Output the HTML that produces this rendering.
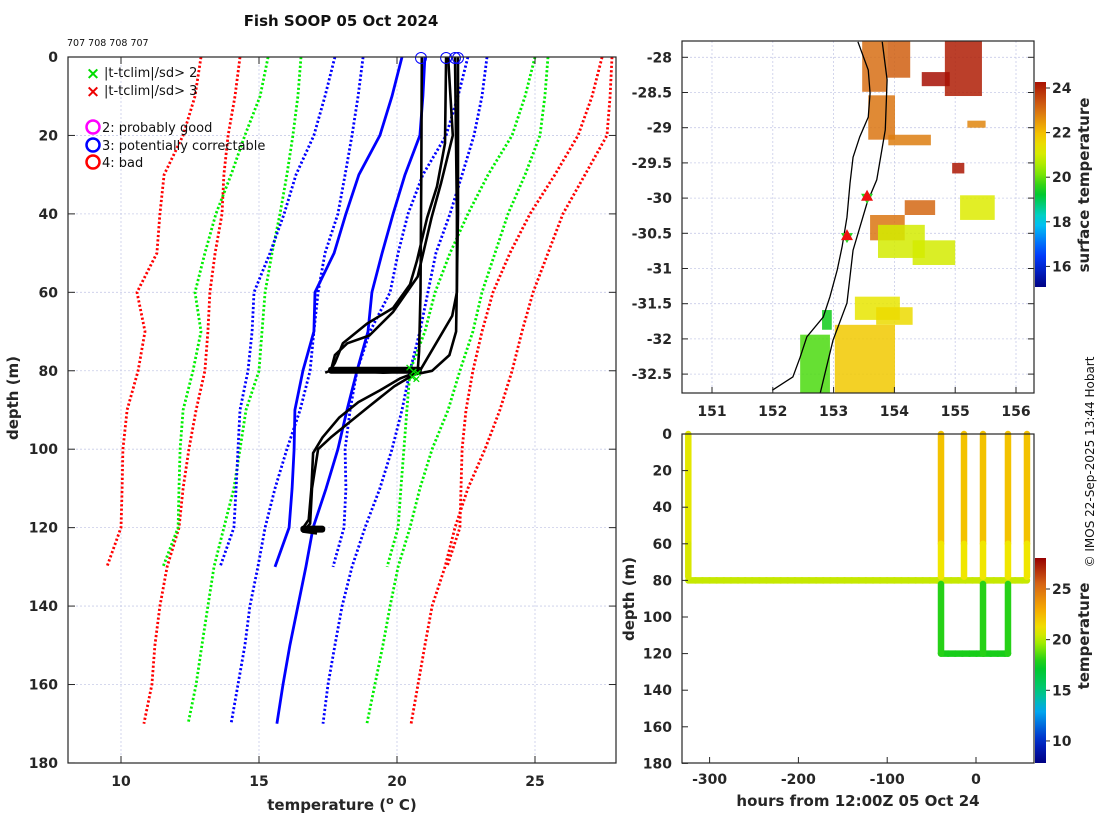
<!DOCTYPE html>
<html><head><meta charset="utf-8">
<style>
html,body{margin:0;padding:0;background:#fff;}
svg{display:block;font-family:"DejaVu Sans","Liberation Sans",sans-serif;}
.tk{font-size:14px;font-weight:bold;fill:#262626;}
.lb{font-size:15px;font-weight:bold;fill:#262626;}
.lg{font-size:13px;fill:#111;font-family:"DejaVu Sans","Liberation Sans",sans-serif;}
</style></head>
<body>
<svg id="chart" width="1100" height="820" viewBox="0 0 1100 820" xmlns="http://www.w3.org/2000/svg">
  <text x="341" y="26" text-anchor="middle" style="font-size:15px;font-weight:bold;fill:#111">Fish SOOP 05 Oct 2024</text>
  <text x="67" y="46" style="font-size:9.5px;fill:#111">707 708 708 707</text>
  <g id="main"></g>
  <g id="map"></g>
  <g id="ts"></g>
  <text transform="translate(1094,462) rotate(-90)" text-anchor="middle" style="font-size:12px;fill:#111;font-family:'DejaVu Sans','Liberation Sans',sans-serif">© IMOS 22-Sep-2025 13:44 Hobart</text>
</svg>
<script>
// ---------- main profile plot data ----------
const shallowDepths=[0,10,20,30,40,50,60,70,80,90,100,110,120,130];
const shallowMean=[20.18,19.82,19.38,18.62,18.15,17.72,17.03,16.99,16.59,16.30,16.27,16.20,16.09,15.58];
const shallowMinus1=[17.75,17.39,16.99,16.34,15.91,15.40,14.82,14.75,14.60,14.31,14.24,14.17,14.09,13.59];
const shallowPlus1=[22.57,22.21,21.78,20.94,20.40,20.04,19.75,19.02,18.55,18.30,18.12,18.15,18.08,17.68];
const shallowMinus2=[15.33,15.04,14.49,13.99,13.44,13.04,12.68,12.90,12.61,12.25,12.14,12.10,12.07,11.52];
const shallowPlus2=[25.0,24.64,24.17,23.30,22.57,21.92,21.38,21.01,20.47,20.36,20.25,20.14,20.04,19.64];
const shallowMinus3=[12.90,12.68,12.25,11.56,11.41,11.30,10.58,10.87,10.62,10.22,10.07,10.04,10.0,9.49];
const shallowPlus3=[27.43,27.07,26.56,25.72,24.82,24.09,23.48,23.08,22.75,22.50,22.36,22.32,22.28,21.81];
const deepDepths=[0,10,20,30,40,50,60,70,80,90,100,110,120,130,140,150,160,170];
const deepMean=[21.01,20.94,20.83,20.29,19.86,19.46,19.09,18.95,18.55,18.19,17.86,17.43,16.96,16.70,16.41,16.12,15.87,15.65];
const deepMinus1=[18.77,18.59,18.37,18.12,17.86,17.39,17.14,16.99,16.85,16.49,16.01,15.58,15.22,14.96,14.67,14.49,14.24,13.99];
const deepPlus1=[23.26,23.08,22.79,22.36,21.92,21.41,21.12,20.83,20.47,20.18,19.82,19.38,18.84,18.37,18.01,17.75,17.50,17.32];
const deepMinus2=[16.52,16.41,16.23,16.01,15.76,15.47,15.22,15.11,15.0,14.53,14.31,14.09,13.73,13.37,13.15,12.93,12.72,12.43];
const deepPlus2=[25.47,25.36,25.18,24.64,24.02,23.55,23.08,22.75,22.28,21.85,21.27,20.83,20.47,20.04,19.75,19.49,19.20,18.91];
const deepMinus3=[14.31,14.13,13.88,13.73,13.66,13.41,13.22,13.15,13.04,12.72,12.46,12.25,12.10,11.67,11.41,11.23,11.12,10.83];
const deepPlus3=[27.79,27.72,27.61,26.81,26.01,25.47,24.93,24.53,24.17,23.73,23.19,22.57,22.10,21.74,21.27,21.01,20.76,20.51];
// observed profiles (temperature, depth)
const prof1T=[20.90,20.88,20.85,20.80,20.76,20.70,19.5,18.3,17.57];
const prof1D=[0,30,60,75,79,80,80.5,80,80];
const prof2T=[21.78,21.74,21.45,21.09,20.72,20.47,19.86,18.91,18.04,17.75,17.57,17.4];
const prof2D=[0,22,33,41,52,58,64,68,73,78,80,80.5];
const prof3T=[21.85,22.02,21.60,21.25,20.75,19.86,19.0,18.2,17.75,17.60];
const prof3D=[0,20,32,41,56,65,71,73,76,80];
const prof4T=[22.10,22.17,22.17,22.0,20.83,20.1,19.38,18.6,17.9,17.3,16.96,16.90,16.80,16.6,17.2];
const prof4D=[0,40,60,66,80,82,85,88,92,97,101,110,118,120,120.5];
const prof5T=[22.21,22.21,22.14,21.9,21.27,20.6,19.9,19.0,18.3,17.6,17.14,16.92,16.85,16.6,17.1];
const prof5D=[0,40,70,76,80,81,84,89,93,97,100,110,119,121,121.5];
const topCircleT=[20.87,21.78,22.10,22.21];
const flagT=[20.45,20.6,20.75,20.55,20.7];
const flagD=[79,80,80.5,81.5,82];
const xTicks=[10,15,20,25];
const yTicks=[0,20,40,60,80,100,120,140,160,180];

// ---------- map data ----------
const sstLon1=[153.47,153.88,154.83,154.45,153.57,153.60,154.17,153.73,154.3,155.08,153.02,152.45,152.81,153.35,154.95,155.2,153.9,153.7];
const sstLon2=[153.88,154.26,155.44,154.91,154.01,154.17,154.67,154.5,155.0,155.65,154.01,152.94,152.97,154.09,155.15,155.5,154.6,154.3];
const sstLat1=[-27.77,-27.77,-27.77,-28.21,-28.54,-30.24,-30.03,-30.38,-30.6,-29.96,-31.80,-31.94,-31.59,-31.40,-29.5,-28.9,-29.1,-31.55];
const sstLat2=[-28.49,-28.29,-28.55,-28.41,-29.17,-30.60,-30.24,-30.85,-30.95,-30.31,-32.77,-32.77,-31.87,-31.73,-29.65,-29.0,-29.25,-31.80];
const sstVal=[23.0,23.2,24.1,24.3,22.9,22.9,23.1,21.0,21.0,21.1,21.8,19.8,19.4,21.3,24.2,22.7,22.8,21.5];
const coastLon=[153.40,153.57,153.60,153.57,153.43,153.32,153.27,153.22,153.14,153.06,152.94,152.83,152.56,152.45,152.33,151.99];
const coastLat=[-27.78,-28.18,-28.51,-28.85,-29.13,-29.42,-29.79,-30.27,-30.69,-31.02,-31.40,-31.69,-31.97,-32.26,-32.54,-32.73];
const trackLon=[153.80,153.88,153.85,153.71,153.55,153.32,153.22,152.99,152.78];
const trackLat=[-27.78,-28.32,-29.03,-29.74,-30.07,-30.74,-31.49,-32.02,-32.77];
const castLon=[153.55,153.22];
const castLat=[-29.98,-30.54];
const lonTicks=[151,152,153,154,155,156];
const latTicks=[-28,-28.5,-29,-29.5,-30,-30.5,-31,-31.5,-32,-32.5];
const sstCbTicks=[16,18,20,22,24];

// ---------- time-depth data ----------
const castHours=[-324,-39.4,-13.5,7.9,36,57.4];
const castBottom=[80,120,80,120,120,80];
const legHours=[[-324,57.4]];
const legDepth=[80];
const deepLegStart=-39.4, deepLegEnd=36, deepLegDepth=120;
const hourTicks=[-300,-200,-100,0];
const tsDepthTicks=[0,20,40,60,80,100,120,140,160,180];
const tsCbTicks=[10,15,20,25];

const NS='http://www.w3.org/2000/svg';
function mk(parent,tag,attrs){const e=document.createElementNS(NS,tag);for(const k in attrs)e.setAttribute(k,attrs[k]);parent.appendChild(e);return e;}

// ===== Main plot =====
const main=document.getElementById('main');
const X=t=>121+(t-10)*27.6, Y=d=>57+d*3.922;
const mL=68,mR=616,mT=57,mB=763;
xTicks.forEach(t=>{const g=mk(main,'line',{x1:X(t),x2:X(t),y1:mT,y2:mB,stroke:'#c8cce8','stroke-width':0.8,'stroke-dasharray':'2,2'});
});
yTicks.forEach(d=>{const g=mk(main,'line',{x1:mL,x2:mR,y1:Y(d),y2:Y(d),stroke:'#c8cce8','stroke-width':0.8,'stroke-dasharray':'2,2'});
});
function poly(parent,ts,ds,color,w,dash,name){
  const pts=ts.map((t,i)=>X(t).toFixed(1)+','+Y(ds[i]).toFixed(1)).join(' ');
  const a={points:pts,fill:'none',stroke:color,'stroke-width':w,'stroke-linejoin':'round'};
  if(dash)a['stroke-dasharray']=dash;
  const p=mk(parent,'polyline',a);
  
  
  return p;}
const dsh='2.2,2.2';
poly(main,shallowMinus3,shallowDepths,'#ff0000',2.8,dsh,'shallow-clim-minus3sd');
poly(main,shallowPlus3,shallowDepths,'#ff0000',2.8,dsh,'shallow-clim-plus3sd');
poly(main,deepMinus3,deepDepths,'#ff0000',2.8,dsh,'deep-clim-minus3sd');
poly(main,deepPlus3,deepDepths,'#ff0000',2.8,dsh,'deep-clim-plus3sd');
poly(main,shallowMinus2,shallowDepths,'#00ee00',2.8,dsh,'shallow-clim-minus2sd');
poly(main,shallowPlus2,shallowDepths,'#00ee00',2.8,dsh,'shallow-clim-plus2sd');
poly(main,deepMinus2,deepDepths,'#00ee00',2.8,dsh,'deep-clim-minus2sd');
poly(main,deepPlus2,deepDepths,'#00ee00',2.8,dsh,'deep-clim-plus2sd');
poly(main,shallowMinus1,shallowDepths,'#0000ff',2.8,dsh,'shallow-clim-minus1sd');
poly(main,shallowPlus1,shallowDepths,'#0000ff',2.8,dsh,'shallow-clim-plus1sd');
poly(main,deepMinus1,deepDepths,'#0000ff',2.8,dsh,'deep-clim-minus1sd');
poly(main,deepPlus1,deepDepths,'#0000ff',2.8,dsh,'deep-clim-plus1sd');
poly(main,shallowMean,shallowDepths,'#0000ff',2.8,null,'shallow-clim-mean');
poly(main,deepMean,deepDepths,'#0000ff',2.8,null,'deep-clim-mean');
[[prof1T,prof1D],[prof2T,prof2D],[prof3T,prof3D],[prof4T,prof4D],[prof5T,prof5D]].forEach((p,i)=>{
  poly(main,p[0],p[1],'#000',2.6,null,'observed-profile-'+(i+1));});
[[17.5,20.9,80],[16.5,17.4,120.5]].forEach(b=>{const r=mk(main,'rect',{x:X(b[0]),y:Y(b[2])-4,width:X(b[1])-X(b[0]),height:7,fill:'#000',rx:3});
});
flagT.forEach((t,i)=>{const tx=mk(main,'text',{x:X(t),y:Y(flagD[i])+4,'text-anchor':'middle',fill:'#00dd00','font-size':'11','font-weight':'bold'});tx.textContent='×';
});
topCircleT.forEach(t=>{const c=mk(main,'circle',{cx:X(t),cy:Y(0)+1,r:5.5,fill:'none',stroke:'#0000ff','stroke-width':1});
});
const fr=mk(main,'rect',{x:mL,y:mT,width:mR-mL,height:mB-mT,fill:'none',stroke:'#262626','stroke-width':1.2});

xTicks.forEach(t=>{mk(main,'line',{x1:X(t),x2:X(t),y1:mB,y2:mB-7,stroke:'#262626'});mk(main,'line',{x1:X(t),x2:X(t),y1:mT,y2:mT+7,stroke:'#262626'});
const tx=mk(main,'text',{x:X(t),y:mB+23,'text-anchor':'middle',class:'tk'});tx.textContent=t;
});
yTicks.forEach(d=>{mk(main,'line',{x1:mL,x2:mL+7,y1:Y(d),y2:Y(d),stroke:'#262626'});mk(main,'line',{x1:mR,x2:mR-7,y1:Y(d),y2:Y(d),stroke:'#262626'});
const tx=mk(main,'text',{x:mL-10,y:Y(d)+5,'text-anchor':'end',class:'tk'});tx.textContent=d;
});
let tl=mk(main,'text',{x:342,y:810,'text-anchor':'middle',class:'lb'});tl.innerHTML='temperature (<tspan dy="-6" font-size="11">o</tspan><tspan dy="6"> C)</tspan>';

tl=mk(main,'text',{transform:'translate(18,398) rotate(-90)','text-anchor':'middle',class:'lb'});tl.textContent='depth (m)';

const leg=mk(main,'g',{});
[['#00dd00','|t-tclim|/sd> 2',77],['#ee0000','|t-tclim|/sd> 3',95]].forEach(l=>{
 const m=mk(leg,'text',{x:93,y:l[2]+2,'text-anchor':'middle',fill:l[0],'font-size':'17','font-weight':'bold'});m.textContent='×';
 
 const t=mk(leg,'text',{x:104,y:l[2],class:'lg'});t.textContent=l[1];
 });
[['#ff00ff','2: probably good',127],['#0000ff','3: potentially correctable',145],['#ff0000','4: bad',162]].forEach(l=>{
 const c=mk(leg,'circle',{cx:93,cy:l[2],r:6.5,fill:'none',stroke:l[0],'stroke-width':2.5});
 
 const t=mk(leg,'text',{x:102,y:l[2]+5,class:'lg'});t.textContent=l[1];
 });

// ===== Map =====
const map=document.getElementById('map');
const MX=lon=>712+(lon-151)*60.8, MY=lat=>57.3+(-28-lat)*70.4;
const aL=682,aR=1034,aT=41,aB=393;
function sstColor(v){const st=[[15,[0,0,128]],[16.5,[0,60,255]],[18,[0,210,240]],[19.3,[0,200,30]],[20.3,[150,235,0]],[21.2,[230,235,0]],[22,[245,190,0]],[23,[215,110,20]],[24.5,[160,0,0]]];
 if(v<=st[0][0])return 'rgb('+st[0][1]+')';for(let i=1;i<st.length;i++){if(v<=st[i][0]){const f=(v-st[i-1][0])/(st[i][0]-st[i-1][0]);const c=st[i-1][1].map((a,j)=>Math.round(a+(st[i][1][j]-a)*f));return 'rgb('+c+')';}}return 'rgb('+st[st.length-1][1]+')';}
lonTicks.forEach(l=>{const g=mk(map,'line',{x1:MX(l),x2:MX(l),y1:aT,y2:aB,stroke:'#c8cce8','stroke-width':0.8,'stroke-dasharray':'2,2'});});
latTicks.forEach(l=>{const g=mk(map,'line',{x1:aL,x2:aR,y1:MY(l),y2:MY(l),stroke:'#c8cce8','stroke-width':0.8,'stroke-dasharray':'2,2'});});
sstVal.forEach((v,i)=>{const x1=Math.max(aL,MX(sstLon1[i])),x2=Math.min(aR,MX(sstLon2[i])),y1=Math.max(aT,MY(sstLat1[i])),y2=Math.min(aB,MY(sstLat2[i]));
 const r=mk(map,'rect',{x:x1,y:y1,width:x2-x1,height:y2-y1,fill:sstColor(v),opacity:0.85});
 });
let pl=mk(map,'polyline',{points:coastLon.map((l,i)=>MX(l)+','+MY(coastLat[i])).join(' '),fill:'none',stroke:'#000','stroke-width':1.3});

pl=mk(map,'polyline',{points:trackLon.map((l,i)=>MX(l)+','+MY(trackLat[i])).join(' '),fill:'none',stroke:'#000','stroke-width':1.3});

castLon.forEach((l,i)=>{const x=MX(l),y=MY(castLat[i]);
 const g=mk(map,'polygon',{points:(x-6)+','+(y-3)+' '+(x+6)+','+(y-3)+' '+x+','+(y+7),fill:'#22dd22'});
 const r=mk(map,'polygon',{points:(x-6)+','+(y+4)+' '+(x+6)+','+(y+4)+' '+x+','+(y-7),fill:'#ee1111'});});
const mf=mk(map,'rect',{x:aL,y:aT,width:aR-aL,height:aB-aT,fill:'none',stroke:'#262626','stroke-width':1.2});
lonTicks.forEach(l=>{mk(map,'line',{x1:MX(l),x2:MX(l),y1:aB,y2:aB-6,stroke:'#262626'});
 const t=mk(map,'text',{x:MX(l),y:aB+23,'text-anchor':'middle',class:'tk'});t.textContent=l;});
latTicks.forEach(l=>{mk(map,'line',{x1:aL,x2:aL+6,y1:MY(l),y2:MY(l),stroke:'#262626'});mk(map,'line',{x1:aR,x2:aR-6,y1:MY(l),y2:MY(l),stroke:'#262626'});
 const t=mk(map,'text',{x:aL-10,y:MY(l)+5,'text-anchor':'end',class:'tk'});t.textContent=l;});
const CB1=v=>88+(24-v)*22.3;
const defs=mk(document.getElementById('chart'),'defs',{});
const gr1=mk(defs,'linearGradient',{id:'g1',x1:0,y1:0,x2:0,y2:1});
for(let k=0;k<=20;k++){const v=24.25-(k/20)*(24.25-15.05);mk(gr1,'stop',{offset:k/20,'stop-color':sstColor(v)});}
let cb=mk(map,'rect',{x:1035,y:82,width:11,height:205,fill:'url(#g1)'});
sstCbTicks.forEach(v=>{mk(map,'line',{x1:1046,x2:1050,y1:CB1(v),y2:CB1(v),stroke:'#262626'});
 const t=mk(map,'text',{x:1052,y:CB1(v)+5,class:'tk'});t.textContent=v;});
tl=mk(map,'text',{transform:'translate(1089,185) rotate(-90)','text-anchor':'middle',class:'lb','font-size':'14'});tl.textContent='surface temperature';


// ===== Time-depth plot =====
const ts=document.getElementById('ts');
const TX=h=>976+h*0.888, TY=d=>434+d*1.83;
const bL=682,bR=1034,bT=434,bB=763;
function tsColor(v){const st=[[7.8,[0,0,130]],[10,[0,40,200]],[13,[0,170,240]],[15,[0,200,120]],[17.5,[0,200,30]],[19.5,[150,235,0]],[21,[240,230,0]],[23,[245,170,0]],[25.5,[215,100,20]],[28.1,[150,0,0]]];
 for(let i=1;i<st.length;i++){if(v<=st[i][0]){const f=Math.max(0,(v-st[i-1][0])/(st[i][0]-st[i-1][0]));const c=st[i-1][1].map((a,j)=>Math.round(a+(st[i][1][j]-a)*f));return 'rgb('+c+')';}}return 'rgb(150,0,0)';}
function seg(x1,y1,x2,y2,col,name){const l=mk(ts,'line',{x1,y1,x2,y2,stroke:col,'stroke-width':6.5,'stroke-linecap':'round'});}
legHours.forEach((lh,i)=>{for(let h=lh[0];h<lh[1];h+=8){seg(TX(h),TY(legDepth[i]),TX(Math.min(h+8,lh[1])),TY(legDepth[i]),tsColor(h%16===0?19.6:20.3),'tow-leg-80m');}});
for(let h=deepLegStart;h<deepLegEnd;h+=8){seg(TX(h),TY(deepLegDepth),TX(Math.min(h+8,deepLegEnd)),TY(deepLegDepth),tsColor(17.8),'tow-leg-120m');}
castHours.forEach((h,i)=>{const x=TX(h);
 seg(x,TY(0),x,TY(60),tsColor(h<-300?20.8:22.2),'cast-upper');
 seg(x,TY(60),x,TY(78),tsColor(h<-300?20.6:21.0),'cast-mid');
 if(castBottom[i]>80)seg(x,TY(82),x,TY(castBottom[i]),tsColor(18),'cast-lower');});
const tf=mk(ts,'rect',{x:bL,y:bT,width:bR-bL,height:bB-bT,fill:'none',stroke:'#262626','stroke-width':1.2});
hourTicks.forEach(h=>{mk(ts,'line',{x1:TX(h),x2:TX(h),y1:bB,y2:bB-6,stroke:'#262626'});
 const t=mk(ts,'text',{x:TX(h),y:bB+21,'text-anchor':'middle',class:'tk'});t.textContent=h;});
tsDepthTicks.forEach(d=>{mk(ts,'line',{x1:bL,x2:bL+6,y1:TY(d),y2:TY(d),stroke:'#262626'});
 const t=mk(ts,'text',{x:bL-10,y:TY(d)+5,'text-anchor':'end',class:'tk'});t.textContent=d;});
tl=mk(ts,'text',{x:858,y:806,'text-anchor':'middle',class:'lb'});tl.textContent='hours from 12:00Z 05 Oct 24';
tl=mk(ts,'text',{transform:'translate(634,599) rotate(-90)','text-anchor':'middle',class:'lb'});tl.textContent='depth (m)';
const CB2=v=>589+(25-v)*10.13;
const gr2=mk(defs,'linearGradient',{id:'g2',x1:0,y1:0,x2:0,y2:1});
for(let k=0;k<=24;k++){const v=28.1-(k/24)*(28.1-7.8);mk(gr2,'stop',{offset:k/24,'stop-color':tsColor(v)});}
cb=mk(ts,'rect',{x:1035,y:558,width:11,height:205,fill:'url(#g2)'});
tsCbTicks.forEach(v=>{mk(ts,'line',{x1:1046,x2:1050,y1:CB2(v),y2:CB2(v),stroke:'#262626'});
 const t=mk(ts,'text',{x:1052,y:CB2(v)+5,class:'tk'});t.textContent=v;});
tl=mk(ts,'text',{transform:'translate(1089,636) rotate(-90)','text-anchor':'middle',class:'lb','font-size':'14'});tl.textContent='temperature';

</script>
</body></html>
